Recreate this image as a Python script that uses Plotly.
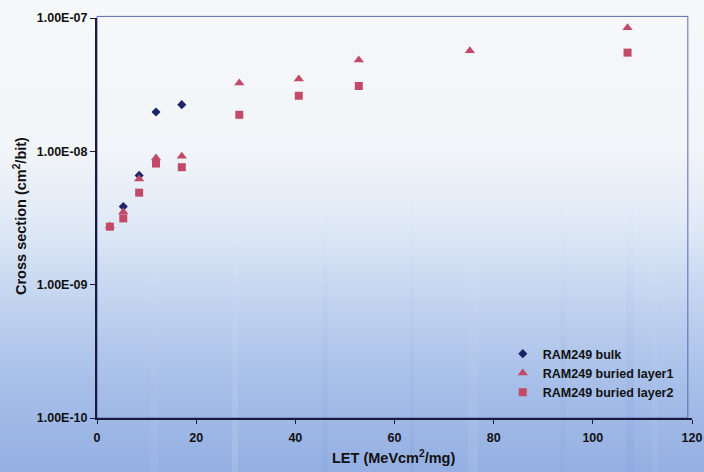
import plotly.graph_objects as go

# ---- data ----
bulk_let = [5.3, 8.5, 11.9, 17.1]
bulk_xs = [3.85e-9, 6.6e-9, 1.97e-8, 2.24e-8]

l1_let = [2.6, 5.3, 8.5, 11.9, 17.1, 28.7, 40.7, 52.8, 75.2, 107.0]
l1_xs = [2.75e-9, 3.5e-9, 6.2e-9, 8.9e-9, 9.2e-9, 3.26e-8, 3.49e-8, 4.84e-8, 5.69e-8, 8.46e-8]

l2_let = [2.6, 5.3, 8.5, 11.9, 17.1, 28.7, 40.7, 52.8, 107.0]
l2_xs = [2.72e-9, 3.14e-9, 4.9e-9, 8.1e-9, 7.6e-9, 1.88e-8, 2.61e-8, 3.09e-8, 5.5e-8]

x_ticks = [0, 20, 40, 60, 80, 100, 120]
y_ticks = [1e-10, 1e-9, 1e-8, 1e-7]
y_tick_text = ["1.00E-10", "1.00E-09", "1.00E-08", "1.00E-07"]

W, H = 704, 472
ML, MR, MT, MB = 97, 12, 18, 54
FONT = "Liberation Sans, Arial, sans-serif"
NAVY = "#1c2466"
ROSE = "#c24a68"

fig = go.Figure()
fig.add_trace(go.Scatter(x=bulk_let, y=bulk_xs, mode="markers", name="RAM249 bulk",
                         marker=dict(symbol="diamond", size=7, color=NAVY)))
fig.add_trace(go.Scatter(x=l1_let, y=l1_xs, mode="markers", name="RAM249 buried layer1",
                         marker=dict(symbol="triangle-up", size=9, color=ROSE)))
fig.add_trace(go.Scatter(x=l2_let, y=l2_xs, mode="markers", name="RAM249 buried layer2",
                         marker=dict(symbol="square", size=8, color=ROSE)))

# background gradient (scan-like), drawn in paper coords across whole figure
pw = W - ML - MR
ph = H - MT - MB
stops = [(0, (246, 247, 249)), (150, (242, 245, 249)), (230, (222, 232, 246)),
         (300, (195, 212, 240)), (380, (168, 191, 233)), (472, (148, 175, 226))]

def col_at(py):
    for (y0, c0), (y1, c1) in zip(stops[:-1], stops[1:]):
        if y0 <= py <= y1:
            t = (py - y0) / (y1 - y0)
            return tuple(int(round(a + (b - a) * t)) for a, b in zip(c0, c1))
    return stops[-1][1]

shapes = []
band = 4
for py in range(0, H, band):
    c = col_at(py + band / 2)
    y_top = 1 - (py - MT) / ph
    y_bot = 1 - (py + band + 1.5 - MT) / ph
    shapes.append(dict(type="rect", xref="paper", yref="paper",
                       x0=-ML / pw - 0.01, x1=1 + MR / pw + 0.01, y0=y_bot, y1=y_top,
                       fillcolor="rgb(%d,%d,%d)" % c, line=dict(width=0), layer="below"))

# very subtle vertical scan streaks, fading in towards the bottom
streaks = [(150, 8, 0.05, "white"), (232, 6, 0.12, "white"), (322, 6, 0.05, "#3a64c4"),
           (410, 4, 0.05, "#3a64c4"), (468, 10, 0.08, "white"), (560, 6, 0.04, "#3a64c4"),
           (626, 8, 0.06, "#3a64c4"), (652, 6, 0.06, "white")]
for sx, sw, op, c in streaks:
    segs = 8
    for k in range(segs):
        ya = 200 + k * (H - 200) / segs
        yb = 200 + (k + 1) * (H - 200) / segs
        shapes.append(dict(type="rect", xref="paper", yref="paper",
                           x0=(sx - ML) / pw, x1=(sx + sw - ML) / pw,
                           y0=1 - (yb - MT) / ph, y1=1 - (ya - MT) / ph,
                           fillcolor=c, opacity=op * (k + 1) / segs, line=dict(width=0),
                           layer="below"))

# plot-area border (top/right thin blue)
shapes.append(dict(type="rect", xref="paper", yref="paper", x0=0, x1=0.993, y0=0, y1=1.004,
                   line=dict(color="#5a68b0", width=1), layer="below"))

fig.update_layout(
    width=W, height=H,
    margin=dict(l=ML, r=MR, t=MT, b=MB, autoexpand=False),
    paper_bgcolor="white", plot_bgcolor="rgba(0,0,0,0)",
    font=dict(family=FONT, color="#111111"),
    shapes=shapes,
    showlegend=True,
    legend=dict(x=0.682, y=0.1975, xanchor="left", yanchor="top",
                bgcolor="rgba(0,0,0,0)", font=dict(size=12.5, family=FONT, color="#111", weight="bold"),
                tracegroupgap=0, itemsizing="trace", itemwidth=30),
    xaxis=dict(range=[0, 120], tickvals=x_ticks, showgrid=False, zeroline=False,
               showline=True, linecolor="#1a1a3a", linewidth=2,
               ticks="outside", ticklen=4, tickcolor="#1a1a3a",
               tickfont=dict(size=12.5, family=FONT, color="#111", weight="bold"),
               ticklabelstandoff=3),
    yaxis=dict(type="log", range=[-10, -7], tickvals=y_ticks, ticktext=y_tick_text,
               showgrid=False, zeroline=False, showline=True, linecolor="#1a1a3a", linewidth=2,
               ticks="outside", ticklen=5, tickcolor="#1a1a3a",
               tickfont=dict(size=12.5, family=FONT, color="#111", weight="bold")),
    annotations=[
        dict(text="<b>LET (MeVcm<sup>2</sup>/mg)</b>", xref="paper", yref="paper",
             x=(393 - ML) / pw, y=-(457 - MT - ph) / ph, xanchor="center", yanchor="middle",
             showarrow=False, font=dict(size=14.5, family=FONT, color="#111")),
        dict(text="<b>Cross section (cm<sup>2</sup>/bit)</b>", xref="paper", yref="paper",
             x=-(ML - 20) / pw, y=1 - (216 - MT) / ph, xanchor="center", yanchor="middle",
             textangle=-90, showarrow=False, font=dict(size=14.5, family=FONT, color="#111")),
    ],
)

fig.write_html("out.html", config={"displayModeBar": False},
               post_script="document.body.style.margin='0';document.body.style.overflow='hidden';")
